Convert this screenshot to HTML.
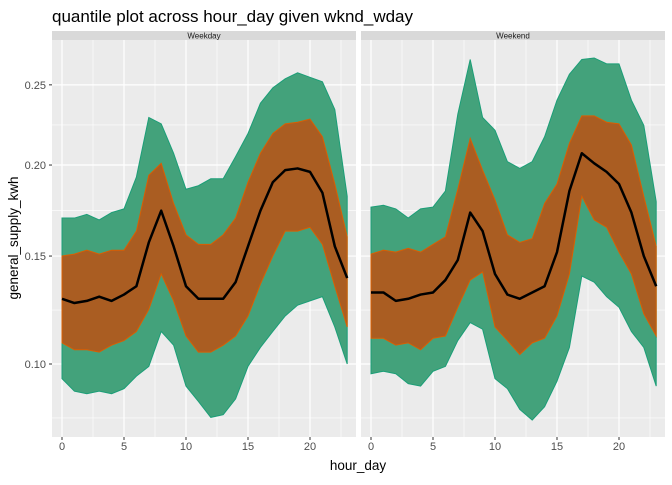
<!DOCTYPE html>
<html><head><meta charset="utf-8"><style>
body{margin:0;background:#fff;font-family:"Liberation Sans",sans-serif}
</style></head><body>
<svg id="chart" width="672" height="480" xmlns="http://www.w3.org/2000/svg" font-family="Liberation Sans, sans-serif">
<text x="52" y="22" font-size="17" fill="#000">quantile plot across hour_day given wknd_wday</text>
<text x="358" y="470" font-size="13.5" text-anchor="middle" fill="#000">hour_day</text>
<text transform="translate(18,238) rotate(-90)" font-size="13.5" text-anchor="middle" fill="#000">general_supply_kwh</text>
<g id="panels"></g>
</svg>
<script>
const hours=[0,1,2,3,4,5,6,7,8,9,10,11,12,13,14,15,16,17,18,19,20,21,22,23];
const facetNames=["Weekday","Weekend"];
const yTicks=[0.10,0.15,0.20,0.25];
const yTickLabels=["0.10","0.15","0.20","0.25"];
const xTicks=[0,5,10,15,20];
const wdHi=[.170,.170,.172,.169,.173,.175,.193,.229,.225,.207,.186,.188,.192,.192,.205,.219,.238,.248,.254,.258,.255,.252,.234,.182];
const wdQ3=[.150,.151,.153,.151,.153,.153,.163,.194,.201,.178,.161,.156,.156,.161,.170,.190,.207,.219,.225,.226,.228,.217,.189,.160];
const wdMed=[.129,.127,.128,.130,.128,.131,.135,.157,.174,.155,.135,.129,.129,.129,.137,.155,.174,.190,.197,.198,.196,.184,.155,.139];
const wdQ1=[.109,.106,.106,.105,.108,.110,.114,.124,.141,.128,.112,.105,.105,.108,.112,.121,.136,.150,.163,.163,.165,.156,.135,.116];
const wdLo=[.094,.089,.088,.089,.088,.090,.095,.099,.114,.108,.091,.085,.079,.080,.086,.099,.107,.114,.121,.126,.128,.130,.116,.100];
const weHi=[.176,.177,.175,.170,.175,.176,.185,.231,.267,.229,.221,.202,.198,.202,.217,.240,.257,.267,.268,.264,.264,.240,.224,.179];
const weQ3=[.151,.153,.152,.154,.152,.156,.160,.186,.216,.197,.180,.161,.157,.159,.178,.189,.213,.230,.230,.226,.225,.212,.182,.155];
const weMed=[.132,.132,.128,.129,.131,.132,.138,.148,.173,.163,.141,.131,.129,.132,.135,.152,.185,.207,.201,.196,.189,.173,.150,.135];
const weQ1=[.111,.111,.108,.109,.106,.111,.112,.125,.138,.142,.116,.110,.104,.109,.111,.121,.141,.182,.169,.165,.152,.141,.122,.112];
const weLo=[.096,.097,.096,.092,.091,.097,.099,.110,.118,.115,.094,.090,.082,.078,.083,.093,.107,.140,.137,.130,.125,.114,.107,.091];
const series=[[wdHi,wdQ3,wdMed,wdQ1,wdLo],[weHi,weQ3,weMed,weQ1,weLo]];

const NS="http://www.w3.org/2000/svg";
const g=document.getElementById('panels');
const PT=40,PB=437,PW=304,panelX=[52,361];
function yS(v){return 364-(Math.sqrt(v)-Math.sqrt(0.1))*1519;}
function xS(h,p){return panelX[p]+10+h*12.4;}
function mk(tag,attrs){const e=document.createElementNS(NS,tag);for(const k in attrs)e.setAttribute(k,attrs[k]);g.appendChild(e);return e;}
function poly(a,b,p){let pts=hours.map((h,i)=>xS(h,p)+','+yS(a[i]));pts=pts.concat(hours.slice().reverse().map((h,j)=>{const i=hours.length-1-j;return xS(h,p)+','+yS(b[i]);}));return pts.join(' ');}
for(let p=0;p<2;p++){
  const x0=panelX[p];
  let e=mk('rect',{x:x0,y:PT,width:PW,height:PB-PT,fill:'#ebebeb'});
  
  
  e=mk('rect',{x:x0,y:31,width:PW,height:9,fill:'#d9d9d9'});
  
  
  e=mk('text',{x:x0+PW/2,y:38.5,'font-size':8,'text-anchor':'middle',fill:'#1a1a1a'});
  e.textContent=facetNames[p];
  
  
  const ty=yTicks.map(yS);
  const minors=[];
  for(let i=0;i<ty.length-1;i++)minors.push((ty[i]+ty[i+1])/2);
  minors.push(ty[0]+(ty[0]-ty[1])/2);
  minors.forEach(y=>{if(y>PT&&y<PB){e=mk('line',{x1:x0,x2:x0+PW,y1:y,y2:y,stroke:'#fff','stroke-width':0.6});}});
  for(let h=2.5;h<23;h+=5){const x=xS(h,p);e=mk('line',{x1:x,x2:x,y1:PT,y2:PB,stroke:'#fff','stroke-width':0.6});}
  ty.forEach(y=>{e=mk('line',{x1:x0,x2:x0+PW,y1:y,y2:y,stroke:'#fff','stroke-width':1.2});});
  xTicks.forEach(h=>{const x=xS(h,p);e=mk('line',{x1:x,x2:x,y1:PT,y2:PB,stroke:'#fff','stroke-width':1.2});
    e=mk('line',{x1:x,x2:x,y1:PB,y2:PB+3,stroke:'#333','stroke-width':1});
    e=mk('text',{x:x,y:PB+13,'font-size':11,'text-anchor':'middle',fill:'#4d4d4d'});e.textContent=h;});
  const s=series[p];
  e=mk('polygon',{points:poly(s[0],s[4],p),fill:'#43a27b',stroke:'#1b9e77','stroke-width':1});
  
  e=mk('polygon',{points:poly(s[1],s[3],p),fill:'#b05a1e','fill-opacity':0.95,stroke:'#d95f02','stroke-width':1});
  
  e=mk('polyline',{points:hours.map((h,i)=>xS(h,p)+','+yS(s[2][i])).join(' '),fill:'none',stroke:'#000','stroke-width':2.5,'stroke-linejoin':'round'});
  
}
yTicks.forEach((v,i)=>{const y=yS(v);
  let e=mk('line',{x1:49,x2:52,y1:y,y2:y,stroke:'#333','stroke-width':1});
  e=mk('text',{x:46,y:y+4,'font-size':11,'text-anchor':'end',fill:'#4d4d4d'});e.textContent=yTickLabels[i];});
</script>
</body></html>
